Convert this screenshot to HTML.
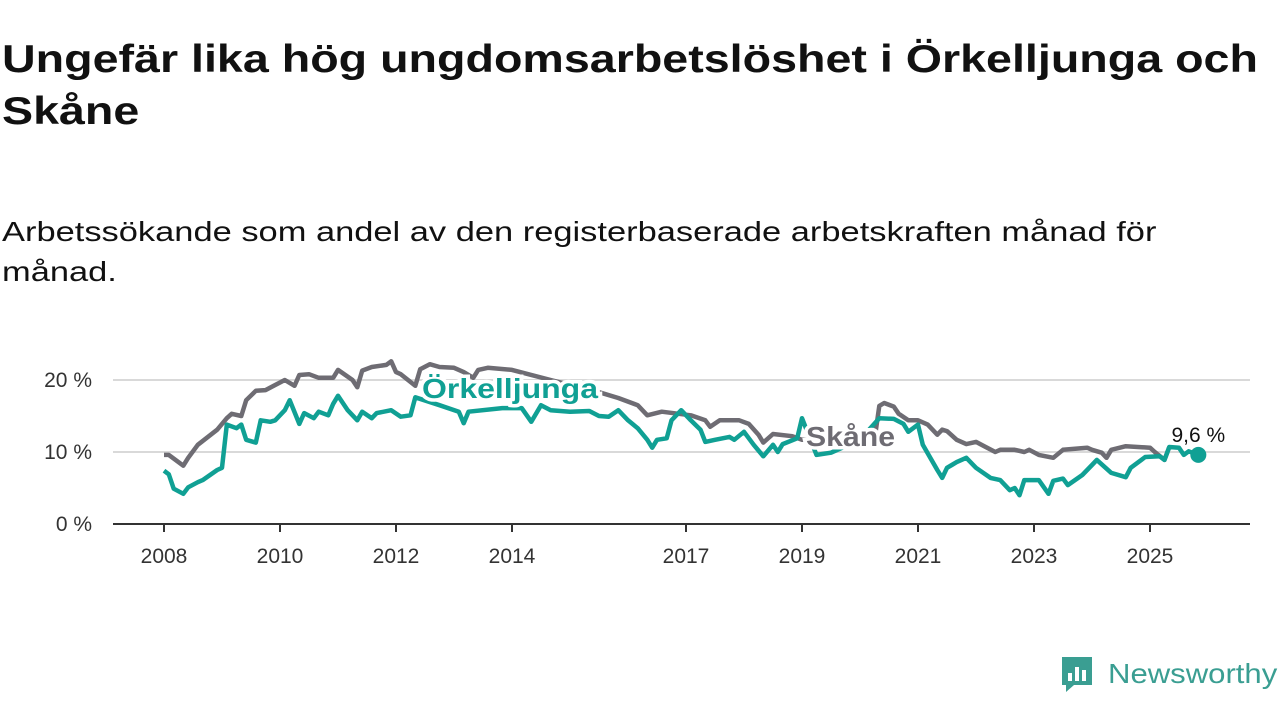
<!DOCTYPE html>
<html><head><meta charset="utf-8"><style>
body{margin:0;width:1280px;height:720px;background:#fff;font-family:"Liberation Sans",sans-serif;overflow:hidden}
h1{position:absolute;left:2px;top:34px;margin:0;font-size:39px;line-height:52px;font-weight:bold;color:#111;transform:scaleX(1.195);transform-origin:0 0;white-space:nowrap}
p{position:absolute;left:2px;top:212px;margin:0;font-size:28px;line-height:40px;color:#111;transform:scaleX(1.23);transform-origin:0 0;white-space:nowrap}
</style></head><body>
<h1>Ungefär lika hög ungdomsarbetslöshet i Örkelljunga och<br>Skåne</h1>
<p>Arbetssökande som andel av den registerbaserade arbetskraften månad för<br>månad.</p>
<svg id="chart" width="1280" height="720" style="position:absolute;left:0;top:0" xmlns="http://www.w3.org/2000/svg"></svg>
<div style="position:absolute;left:1060px;top:655px;display:flex;align-items:center">
<svg width="34" height="38"><path d="M2 2h30v28H14l-8 7v-7H2z" fill="#3a9e92"/><rect x="8" y="18" width="4" height="8" fill="#fff"/><rect x="15" y="12" width="4" height="14" fill="#fff"/><rect x="22" y="15" width="4" height="11" fill="#fff"/></svg>
<span style="margin-left:14px;font-size:28px;color:#3a9e92;display:inline-block;transform:scaleX(1.11);transform-origin:0 50%">Newsworthy</span></div>
<script>
const yTicks=[0,10,20];
const xTickYears=[2008,2010,2012,2014,2017,2019,2021,2023,2025];
const skaneMonths=[0,1,4,5,7,11,13,14,16,17,19,21,23,25,27,28,30,32,35,36,39,40,41,43,46,47,48,49,52,53,55,57,60,62,64,65,67,72,80,90,94,98,100,103,109,112,113,115,119,121,123,124,126,130,132,134,142,147,148,149,151,152,154,156,158,160,161,162,164,166,168,170,172,173,176,178,179,181,184,186,191,192,194,195,196,199,204,205,207,208];
const skaneValues=[9.6,9.6,8.1,9.2,11.0,13.1,14.7,15.3,15.0,17.2,18.5,18.6,19.3,20.0,19.2,20.7,20.8,20.3,20.3,21.4,20.0,19.0,21.3,21.8,22.1,22.6,21.1,20.8,19.2,21.5,22.2,21.8,21.7,21.1,20.3,21.4,21.7,21.4,20.0,18.3,17.5,16.5,15.1,15.6,15.1,14.4,13.5,14.4,14.4,13.9,12.4,11.3,12.5,12.2,11.7,11.7,11.7,11.7,16.4,16.8,16.3,15.3,14.4,14.4,13.8,12.4,13.1,12.9,11.7,11.1,11.4,10.7,10.0,10.3,10.3,10.0,10.3,9.6,9.2,10.3,10.6,10.3,9.9,9.2,10.3,10.8,10.6,10.0,8.9,10.7];
const orkMonths=[0,1,2,4,5,7,8,11,12,13,15,16,17,19,20,22,23,25,26,28,29,31,32,34,35,36,38,40,41,43,44,47,49,51,52,57,61,62,63,70,74,76,78,80,84,88,90,92,94,96,98,100,101,102,104,105,107,109,111,112,114,117,118,120,122,124,126,127,128,131,132,135,138,144,148,151,153,154,156,157,160,161,162,163,164,166,168,171,173,175,176,177,178,181,183,184,186,187,190,192,193,196,199,200,203,206,207,208,210,211,212,214];
const orkValues=[7.4,6.9,4.9,4.2,5.1,5.8,6.1,7.5,7.8,13.8,13.3,13.8,11.7,11.3,14.4,14.2,14.4,15.8,17.2,13.9,15.4,14.7,15.6,15.1,16.7,17.8,15.8,14.4,15.6,14.7,15.4,15.8,14.9,15.1,17.6,16.5,15.6,14.0,15.6,16.1,16.1,14.2,16.5,15.8,15.6,15.7,15.0,14.9,15.8,14.4,13.3,11.7,10.6,11.7,11.9,14.4,15.8,14.4,13.1,11.4,11.7,12.1,11.7,12.8,11.0,9.4,11.0,10.0,11.1,11.9,14.7,9.6,9.9,11.7,14.7,14.6,13.9,12.8,13.8,11.0,7.5,6.4,7.8,8.2,8.6,9.2,7.8,6.4,6.1,4.7,5.0,4.0,6.1,6.1,4.2,6.0,6.3,5.4,6.8,8.2,8.9,7.1,6.5,7.8,9.3,9.4,8.9,10.7,10.6,9.6,10.1,9.6];
const NS="http://www.w3.org/2000/svg";
const svg=document.getElementById('chart');
const X=m=>164+m*58/12, XY=y=>164+(y-2008)*58, Y=v=>524-v*7.2;
function el(t,a,p){const e=document.createElementNS(NS,t);for(const k in a)e.setAttribute(k,a[k]);(p||svg).appendChild(e);return e;}
yTicks.forEach(v=>{
 if(v>0){const g=el('line',{x1:113,x2:1250,y1:Y(v),y2:Y(v),stroke:'#d9d9d9','stroke-width':2});
 
 }
 const t=el('text',{x:92,y:Y(v)+7,'text-anchor':'end','font-size':21,fill:'#333'});t.textContent=v+' %';
 
 
});
const ax=el('line',{x1:113,x2:1250,y1:524,y2:524,stroke:'#333','stroke-width':2});


xTickYears.forEach(y=>{
 const tk=el('line',{x1:XY(y),x2:XY(y),y1:524,y2:532,stroke:'#333','stroke-width':2});
 
 
 const t=el('text',{x:XY(y),y:563,'text-anchor':'middle','font-size':21,fill:'#333'});t.textContent=y;
 
 
});
function line(ms,vs,c,name){const d=ms.map((m,i)=>(i?'L':'M')+X(m).toFixed(1)+' '+Y(vs[i]).toFixed(1)).join('');
 const p=el('path',{d:d,fill:'none',stroke:c,'stroke-width':4.5,'stroke-linejoin':'round'});
 
 }
line(skaneMonths,skaneValues,'#6e6c73','skane-line');
line(orkMonths,orkValues,'#10a094','orkelljunga-line');
const lm=orkMonths.length-1;
const dot=el('circle',{cx:X(orkMonths[lm]),cy:Y(orkValues[lm]),r:8,fill:'#10a094'});


const vl=el('text',{x:X(orkMonths[lm]),y:Y(orkValues[lm])-13,'text-anchor':'middle','font-size':21,fill:'#111',stroke:'#fff','stroke-width':4,'paint-order':'stroke'});
vl.textContent=String(orkValues[lm]).replace('.',',')+' %';


const l1=el('text',{x:422,y:398,'font-size':28,'font-weight':'bold',fill:'#10a094',stroke:'#fff','stroke-width':7,'paint-order':'stroke',textLength:176,lengthAdjust:'spacingAndGlyphs'});l1.textContent='Örkelljunga';


const l2=el('text',{x:806,y:446,'font-size':28,'font-weight':'bold',fill:'#6e6c73',stroke:'#fff','stroke-width':7,'paint-order':'stroke',textLength:89,lengthAdjust:'spacingAndGlyphs'});l2.textContent='Skåne';


</script>
</body></html>
